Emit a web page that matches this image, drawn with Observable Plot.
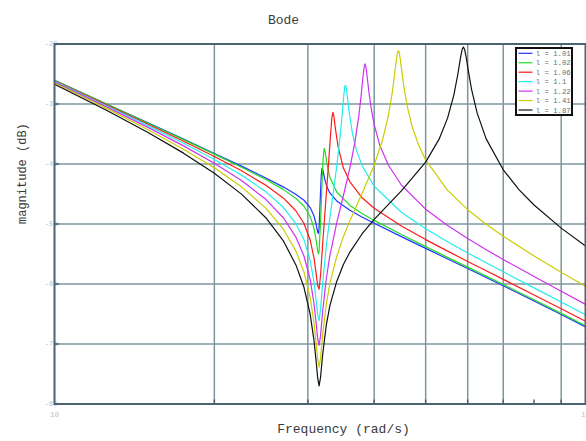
<!DOCTYPE html>
<html>
<head>
<meta charset="utf-8">
<script src="https://cdn.jsdelivr.net/npm/d3@7"></script>
<script src="https://cdn.jsdelivr.net/npm/@observablehq/plot@0.6"></script>
<style>
  body { margin: 0; background: #fff; }
  #chart { position: relative; width: 586px; height: 441px; overflow: hidden; }
  #legend {
    position: absolute; left: 515px; top: 47px;
    width: 58px; height: 69px; box-sizing: border-box;
    border: 2px solid #111; background: #fff; overflow: hidden;
  }
  #legend svg { display: block; }
</style>
</head>
<body>
<div id="chart"><div id="legend"></div></div>
<script>
// Magnitude (dB) against frequency (rad/s), one series per ratio l.
const l101 = [[1,-26.05],[1.25,-29.95],[1.5,-33.15],[1.75,-35.86],[2,-38.24],[2.25,-40.36],[2.5,-42.32],[2.7,-43.85],[2.85,-45.08],[2.95,-46.04],[3.03,-47.26],[3.08,-48.6],[3.11,-50.04],[3.12,-50.69],[3.13,-51.33],[3.14,-51.59],[3.15,-50.65],[3.17,-44.53],[3.18,-41.79],[3.19,-40.72],[3.2,-40.89],[3.21,-41.47],[3.23,-42.64],[3.26,-43.84],[3.3,-44.82],[3.4,-46.16],[3.6,-47.71],[3.8,-48.86],[4,-49.88],[4.5,-52.11],[5,-54.06],[5.5,-55.82],[6,-57.43],[6.5,-58.92],[7,-60.3],[8,-62.83],[9,-65.09],[10,-67.15]];
const l102 = [[1,-26.07],[1.25,-29.98],[1.5,-33.2],[1.75,-35.94],[2,-38.35],[2.25,-40.53],[2.5,-42.59],[2.7,-44.27],[2.85,-45.74],[2.95,-47.05],[3.03,-48.74],[3.08,-50.69],[3.11,-52.71],[3.13,-54.45],[3.14,-54.98],[3.15,-54.5],[3.17,-49.72],[3.19,-43.25],[3.205,-39.11],[3.22,-37.4],[3.235,-38.04],[3.26,-40.03],[3.3,-42.2],[3.4,-44.67],[3.6,-46.9],[3.8,-48.28],[4,-49.4],[4.5,-51.76],[5,-53.77],[5.5,-55.56],[6,-57.19],[6.5,-58.69],[7,-60.09],[8,-62.62],[9,-64.89],[10,-66.96]];
const l106 = [[1,-26.14],[1.25,-30.1],[1.5,-33.37],[1.75,-36.21],[2,-38.75],[2.25,-41.13],[2.5,-43.53],[2.7,-45.7],[2.85,-47.84],[2.95,-49.91],[3.03,-52.66],[3.08,-55.61],[3.11,-58.28],[3.13,-60.25],[3.15,-60.87],[3.17,-58.55],[3.2,-53.18],[3.24,-46.59],[3.28,-40.21],[3.31,-35.16],[3.33,-32.2],[3.345,-31.4],[3.36,-32.15],[3.38,-34.06],[3.42,-37.09],[3.5,-40.68],[3.6,-42.97],[3.8,-45.67],[4,-47.37],[4.5,-50.34],[5,-52.6],[5.5,-54.52],[6,-56.24],[6.5,-57.79],[7,-59.23],[8,-61.82],[9,-64.12],[10,-66.21]];
const l110 = [[1,-26.23],[1.25,-30.24],[1.5,-33.6],[1.75,-36.54],[2,-39.24],[2.25,-41.85],[2.5,-44.61],[2.7,-47.26],[2.85,-49.99],[2.95,-52.64],[3.03,-56.08],[3.08,-59.62],[3.11,-62.74],[3.13,-65.07],[3.15,-66.1],[3.17,-64.25],[3.2,-59.73],[3.25,-53.66],[3.3,-48.97],[3.36,-43.91],[3.42,-38.55],[3.46,-34.33],[3.49,-30.58],[3.51,-28.1],[3.525,-26.9],[3.54,-27.05],[3.56,-28.79],[3.59,-31.47],[3.64,-34.9],[3.7,-37.61],[3.8,-40.36],[4,-43.71],[4.5,-48.05],[5,-50.79],[5.5,-52.96],[6,-54.82],[6.5,-56.47],[7,-57.97],[8,-60.65],[9,-63],[10,-65.12]];
const l122 = [[1,-26.35],[1.25,-30.44],[1.5,-33.9],[1.75,-36.98],[2,-39.86],[2.25,-42.74],[2.5,-45.89],[2.7,-49],[2.85,-52.24],[2.95,-55.33],[3.03,-59.24],[3.08,-63.14],[3.11,-66.51],[3.13,-69.01],[3.15,-70.23],[3.17,-68.6],[3.2,-64.44],[3.25,-59.08],[3.3,-55.3],[3.4,-49.82],[3.5,-45.25],[3.6,-40.64],[3.68,-36.31],[3.74,-32.15],[3.78,-28.61],[3.81,-25.5],[3.83,-23.8],[3.845,-23.3],[3.86,-23.85],[3.88,-25.45],[3.91,-28.05],[3.95,-30.83],[4,-33.44],[4.1,-36.93],[4.25,-40.12],[4.5,-43.5],[5,-47.53],[5.5,-50.26],[6,-52.43],[6.5,-54.28],[7,-55.92],[8,-58.76],[9,-61.22],[10,-63.4]];
const l141 = [[1,-26.51],[1.25,-30.69],[1.5,-34.28],[1.75,-37.53],[2,-40.64],[2.25,-43.81],[2.5,-47.36],[2.7,-50.91],[2.85,-54.57],[2.95,-58.01],[3.03,-62.24],[3.08,-66.38],[3.11,-69.9],[3.13,-72.51],[3.15,-73.84],[3.17,-72.32],[3.2,-68.35],[3.25,-63.33],[3.3,-59.94],[3.4,-55.42],[3.5,-52.11],[3.6,-49.44],[3.8,-44.81],[4,-40.19],[4.15,-35.91],[4.25,-32.08],[4.33,-27.85],[4.38,-24.3],[4.41,-22.2],[4.43,-21.3],[4.445,-21.1],[4.46,-21.5],[4.48,-22.6],[4.51,-24.6],[4.55,-27.15],[4.62,-30.53],[4.72,-33.88],[4.85,-36.85],[5,-39.32],[5.5,-44.39],[6,-47.61],[6.5,-50.04],[7,-52.04],[8,-55.33],[9,-58.03],[10,-60.37]];
const l187 = [[1,-26.71],[1.25,-31.01],[1.5,-34.75],[1.75,-38.19],[2,-41.54],[2.25,-45.02],[2.5,-48.95],[2.7,-52.87],[2.85,-56.86],[2.95,-60.55],[3.03,-65.01],[3.08,-69.3],[3.11,-72.91],[3.13,-75.59],[3.15,-76.99],[3.17,-75.54],[3.2,-71.67],[3.25,-66.84],[3.3,-63.64],[3.4,-59.57],[3.5,-56.76],[3.6,-54.68],[3.8,-51.58],[4,-49.22],[4.5,-44.49],[5,-39.69],[5.3,-35.86],[5.5,-32.31],[5.65,-28.51],[5.75,-25],[5.82,-22.1],[5.86,-20.85],[5.89,-20.5],[5.92,-20.9],[5.96,-22.2],[6.02,-24.6],[6.1,-27.52],[6.25,-31.48],[6.5,-35.81],[7,-40.97],[7.5,-44.3],[8,-46.84],[9,-50.69],[10,-53.67]];

const seriesData = [l101, l102, l106, l110, l122, l141, l187];
const seriesLabels = ["l = 1.01", "l = 1.02", "l = 1.06", "l = 1.1", "l = 1.22", "l = 1.41", "l = 1.87"];
const seriesColors = ["#2233ff", "#22dd22", "#ff1a1a", "#22eeee", "#cc33ee", "#cccc00", "#111111"];

// Axes: grid positions, tick positions and tick labels
const xGrid = [2, 3, 4, 5, 6, 7, 9];
const xTicks = [2, 3, 4, 5, 6, 7, 8, 9];
const xTickValues = [1, 10];
const xTickLabels = ["10", "10"];
const yGrid = [-30, -40, -50, -60, -70];
const yTicks = [-20, -30, -40, -50, -60, -70, -80];
const yTickLabels = ["-20", "-30", "-40", "-50", "-60", "-70", "-80"];

const frameColor = "#4a6470";
const gridColor = "#7d969c";
const labelColor = "#b7c2c6";
const mono = "'Liberation Mono', 'DejaVu Sans Mono', monospace";

const chart = Plot.plot({
  width: 586,
  height: 441,
  marginLeft: 54,
  marginRight: 1,
  marginTop: 43.5,
  marginBottom: 37.5,
  x: {type: "log", domain: [1, 10], axis: null},
  y: {domain: [-80, -20], axis: null},
  style: {background: "#fff", fontFamily: mono, overflow: "hidden"},
  marks: [
    Plot.ruleX(xGrid, {x: d => d, stroke: gridColor, strokeWidth: 1.5}),
    Plot.ruleY(yGrid, {y: d => d, stroke: gridColor, strokeWidth: 1.5}),
    Plot.text(yTicks, {x: 1, y: d => d, text: (d, i) => yTickLabels[i], textAnchor: "end", dx: 3, fontSize: 7, fill: labelColor}),
    Plot.text(xTickValues, {x: d => d, y: -80, text: (d, i) => xTickLabels[i], textAnchor: "middle", dy: 10.5, fontSize: 7.5, fill: labelColor}),
    ...seriesData.map((data, i) => Plot.line(data, {
      x: d => d[0], y: d => d[1], stroke: seriesColors[i], strokeWidth: 1.2
    })),
    Plot.frame({stroke: frameColor, strokeWidth: 2}),
    Plot.ruleY(yTicks, {y: d => d, x1: 1, x2: 1, insetRight: -5, stroke: frameColor, strokeWidth: 1.5}),
    Plot.ruleX(xTicks, {x: d => d, y1: -80, y2: -80, insetTop: -4, stroke: frameColor, strokeWidth: 1.5}),
    Plot.text(["Bode"], {text: d => d, frameAnchor: "top", dx: -36.5, dy: -29.5, fontSize: 13, fill: "#3a3a3a"}),
    Plot.text(["Frequency (rad/s)"], {text: d => d, frameAnchor: "bottom", dx: 23.5, dy: 28.5, fontSize: 13, fill: "#3a3a3a"}),
    Plot.text(["magnitude (dB)"], {text: d => d, frameAnchor: "left", dx: -32.3, rotate: -90, fontSize: 12, fill: "#3a3a3a"})
  ]
});
document.getElementById("chart").prepend(chart);

// Legend box in the upper right corner
const legend = d3.select("#legend").append("svg").attr("width", 54).attr("height", 65);
seriesLabels.forEach((label, i) => {
  const y = 4.3 + i * 9.45;
  legend.append("line")
    .attr("x1", 1.5).attr("x2", 15.5).attr("y1", y).attr("y2", y)
    .attr("stroke", seriesColors[i]).attr("stroke-width", 1.2);
  legend.append("text")
    .attr("x", 18.7).attr("y", y).attr("dy", "0.35em")
    .attr("font-family", mono).attr("font-size", 7.3).attr("fill", "#6e6e6e")
    .text(label);
});
</script>
</body>
</html>
